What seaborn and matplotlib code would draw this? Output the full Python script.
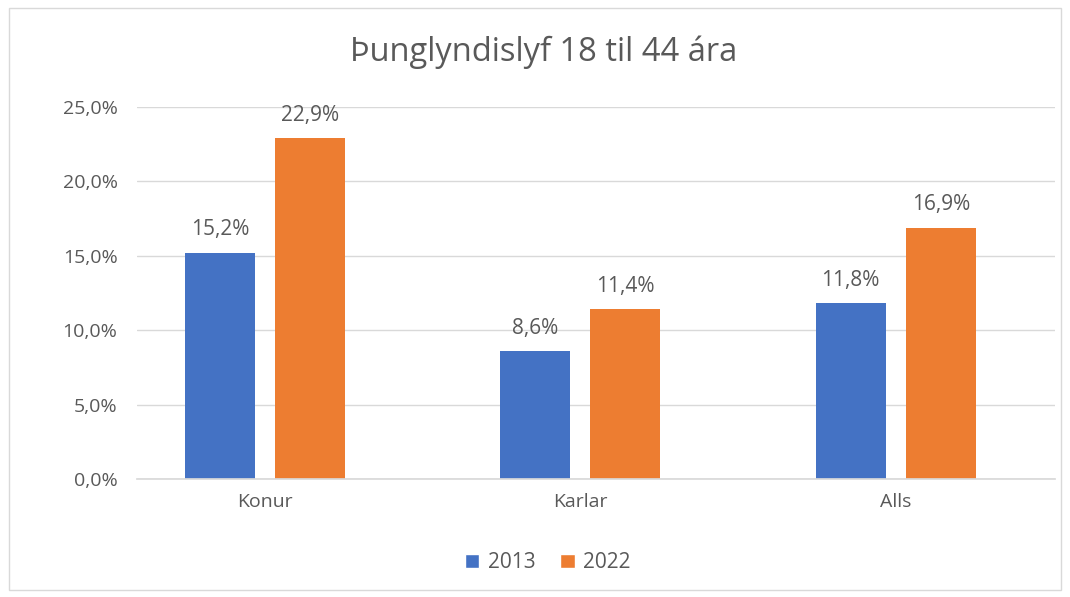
import matplotlib
matplotlib.use("Agg")
import matplotlib.pyplot as plt
import seaborn as sns
import pandas as pd
from matplotlib.patches import Rectangle, Patch

categories = ["Konur", "Karlar", "Alls"]
years = ["2013", "2022"]
values_2013 = [15.2, 8.6, 11.8]
values_2022 = [22.9, 11.4, 16.9]
title = "Þunglyndislyf 18 til 44 ára"
colors = ["#4472C4", "#ED7D31"]

df = pd.DataFrame({
    "cat": categories * 2,
    "year": [years[0]] * 3 + [years[1]] * 3,
    "val": values_2013 + values_2022,
})

sns.set_theme(style="white")
plt.rcParams["font.family"] = ["Open Sans", "DejaVu Sans"]
txt = "#595959"

fig = plt.figure(figsize=(10.70, 5.97), dpi=100)
ax = fig.add_axes([0.128, 0.1977, 0.858, 0.6231])
sns.barplot(data=df, x="cat", y="val", hue="year", palette=colors,
            width=0.571, gap=0.222, ax=ax, saturation=1, legend=False,
            linewidth=0, edgecolor="none")

for cont in ax.containers:
    ax.bar_label(cont, labels=[f"{v:.1f}%".replace(".", ",") for v in cont.datavalues],
                 padding=9, fontsize=15, color=txt)

ax.set_ylim(0, 25)
ax.set_xlim(-0.406, 2.505)
ax.set_yticks([0, 5, 10, 15, 20, 25])
ax.set_yticklabels([f"{t:.1f}%".replace(".", ",") for t in [0, 5, 10, 15, 20, 25]])
ax.yaxis.grid(True, color="#D9D9D9", linewidth=1)
ax.set_axisbelow(True)
for s in ["top", "right", "left"]:
    ax.spines[s].set_visible(False)
ax.spines["bottom"].set_color("#D9D9D9")
ax.tick_params(axis="both", length=0, labelsize=14, colors=txt)
ax.tick_params(axis="y", pad=14)
ax.tick_params(axis="x", pad=10)
ax.set_xlabel("")
ax.set_ylabel("")

fig.text(0.508, 0.912, title, ha="center", va="center", fontsize=23.5, color=txt)

handles = [Patch(facecolor=c, label=y) for c, y in zip(colors, years)]
fig.legend(handles=handles, loc="center", bbox_to_anchor=(0.512, 0.057), ncol=2,
           frameon=False, fontsize=15, labelcolor=txt, handlelength=0.7,
           handleheight=0.7, columnspacing=1.2, handletextpad=0.4)

fig.patches.append(Rectangle((0.008, 0.012), 0.984, 0.975, transform=fig.transFigure,
                             fill=False, edgecolor="#D9D9D9", linewidth=1))

fig.savefig("out.png", dpi=100)
